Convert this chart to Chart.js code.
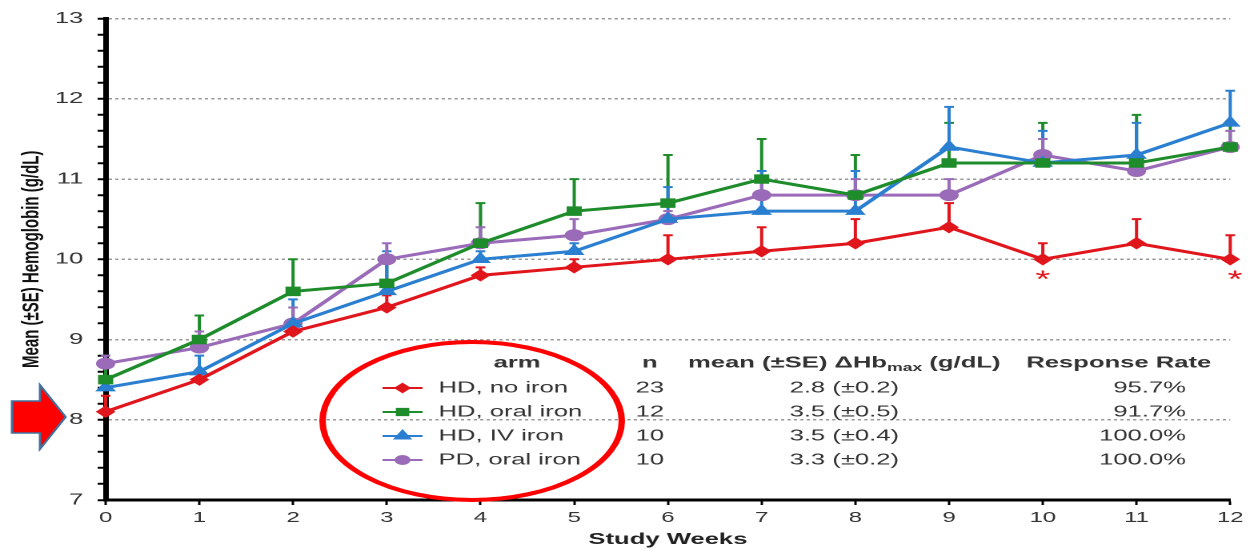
<!DOCTYPE html>
<html>
<head>
<meta charset="utf-8">
<script src="https://cdn.jsdelivr.net/npm/chart.js@4.4.1/dist/chart.umd.min.js"></script>
<style>
  html, body { margin: 0; padding: 0; background: #fff; overflow: hidden; }
  /* the source picture is stretched sideways, so the chart is drawn narrow and widened */
  #wrap { width: 781px; height: 549px; transform-origin: 0 0; transform: scaleX(1.6005); }
</style>
</head>
<body>
<div id="wrap"><canvas id="hbChart"></canvas></div>
<script>
// weeks on the x axis
const weeks = [0, 1, 2, 3, 4, 5, 6, 7, 8, 9, 10, 11, 12];
const yMin = 7, yMax = 13;

// table in the plot
const arms = ["HD, no iron", "HD, oral iron", "HD, IV iron", "PD, oral iron"];
const armN = ["23", "12", "10", "10"];
const deltaHb = ["2.8 (\u00b10.2)", "3.5 (\u00b10.5)", "3.5 (\u00b10.4)", "3.3 (\u00b10.2)"];
const responseRate = ["95.7%", "91.7%", "100.0%", "100.0%"];

// mean Hb per week and the SE (upper bar only)
const hdNoIron   = [8.1, 8.5, 9.1, 9.4, 9.8, 9.9, 10.0, 10.1, 10.2, 10.4, 10.0, 10.2, 10.0];
const hdNoIronSE = [0.2, 0.1, 0.1, 0.15, 0.1, 0.1, 0.3, 0.3, 0.3, 0.3, 0.2, 0.3, 0.3];
const hdOral     = [8.5, 9.0, 9.6, 9.7, 10.2, 10.6, 10.7, 11.0, 10.8, 11.2, 11.2, 11.2, 11.4];
const hdOralSE   = [0.3, 0.3, 0.4, 0.3, 0.5, 0.4, 0.6, 0.5, 0.5, 0.5, 0.5, 0.6, 0.3];
const hdIV       = [8.4, 8.6, 9.2, 9.6, 10.0, 10.1, 10.5, 10.6, 10.6, 11.4, 11.2, 11.3, 11.7];
const hdIVSE     = [0.1, 0.2, 0.3, 0.5, 0.1, 0.1, 0.4, 0.5, 0.5, 0.5, 0.4, 0.4, 0.4];
const pdOral     = [8.7, 8.9, 9.2, 10.0, 10.2, 10.3, 10.5, 10.8, 10.8, 10.8, 11.3, 11.1, 11.4];
const pdOralSE   = [0.1, 0.2, 0.2, 0.2, 0.2, 0.2, 0.1, 0.2, 0.2, 0.2, 0.2, 0.1, 0.2];

// weeks marked with * for HD, no iron
const sigWeeks = [10, 12];

const colors = ["#e0161c", "#1e8c2a", "#2a7fd0", "#9a6bb8"];
const styles = ["rectRot", "rect", "triangle", "circle"];
const radii = [5.5, 6, 6.5, 5.5];

Chart.defaults.font.family = '"Liberation Sans", Arial, sans-serif';

function makeSet(i, values, se) {
    return {
        label: arms[i],
        data: weeks.map((w, k) => ({ x: w, y: values[k] })),
        se: se,
        borderColor: colors[i],
        backgroundColor: colors[i],
        borderWidth: 3,
        pointStyle: styles[i],
        pointRadius: radii[i],
        pointBorderWidth: 1,
        tension: 0,
        clip: false
    };
}

const isInt = v => Math.abs(v - Math.round(v)) < 1e-6;

// upward SE bars
const errorBars = {
    id: "errorBars",
    beforeDatasetsDraw(chart) {
        const { ctx, scales: { x, y } } = chart;
        chart.data.datasets.forEach(ds => {
            ctx.save();
            ctx.strokeStyle = ds.borderColor;
            ctx.lineWidth = 2;
            ds.data.forEach((p, k) => {
                const px = x.getPixelForValue(p.x);
                const y0 = y.getPixelForValue(p.y);
                const y1 = y.getPixelForValue(p.y + ds.se[k]);
                ctx.beginPath();
                ctx.moveTo(px, y0);
                ctx.lineTo(px, y1);
                ctx.moveTo(px - 3, y1);
                ctx.lineTo(px + 3, y1);
                ctx.stroke();
            });
            ctx.restore();
        });
    }
};

// table, red ellipse, arrow, asterisks
const overlay = {
    id: "overlay",
    afterDraw(chart) {
        const { ctx, scales: { x, y } } = chart;
        ctx.save();

        // asterisks
        ctx.fillStyle = colors[0];
        ctx.font = "24px 'Liberation Sans', Arial";
        ctx.textAlign = "center";
        ctx.textBaseline = "middle";
        sigWeeks.forEach(w => {
            const k = weeks.indexOf(w);
            const dx = w === 12 ? 3 : 0;
            ctx.fillText("*", x.getPixelForValue(w) + dx, y.getPixelForValue(hdNoIron[k]) + 21);
        });

        // table header
        const rowY = [363, 388, 412, 436, 460];
        ctx.fillStyle = "#333";
        ctx.font = "bold 16px 'Liberation Sans', Arial";
        ctx.fillText("arm", 323, rowY[0]);
        ctx.fillText("n", 406, rowY[0]);
        ctx.fillText("Response Rate", 699, rowY[0]);

        const partA = "mean (\u00b1SE) \u0394Hb", partB = "max", partC = " (g/dL)";
        const wA = ctx.measureText(partA).width;
        const wC = ctx.measureText(partC).width;
        ctx.font = "bold 11px 'Liberation Sans', Arial";
        const wB = ctx.measureText(partB).width;
        let hx = 527.5 - (wA + wB + wC) / 2;
        ctx.textAlign = "left";
        ctx.font = "bold 16px 'Liberation Sans', Arial";
        ctx.fillText(partA, hx, rowY[0]);
        ctx.font = "bold 11px 'Liberation Sans', Arial";
        ctx.fillText(partB, hx + wA, rowY[0] + 5);
        ctx.font = "bold 16px 'Liberation Sans', Arial";
        ctx.fillText(partC, hx + wA + wB, rowY[0]);

        // table rows
        ctx.font = "16px 'Liberation Sans', Arial";
        arms.forEach((a, i) => {
            const ry = rowY[i + 1];
            ctx.strokeStyle = colors[i];
            ctx.fillStyle = colors[i];
            ctx.lineWidth = 2;
            ctx.beginPath();
            ctx.moveTo(239, ry);
            ctx.lineTo(264, ry);
            ctx.stroke();
            Chart.helpers.drawPoint(ctx, { pointStyle: styles[i], radius: radii[i] - 1.5, rotation: 0, borderWidth: 1 }, 251.5, ry);

            ctx.fillStyle = "#333";
            ctx.textAlign = "left";
            ctx.fillText(a, 274, ry);
            ctx.textAlign = "center";
            ctx.fillText(armN[i], 406, ry);
            ctx.fillText(deltaHb[i], 527.5, ry);
            ctx.textAlign = "right";
            ctx.fillText(responseRate[i], 741, ry);
        });

        // red ellipse round the arms
        ctx.strokeStyle = "#ff0000";
        ctx.lineWidth = 4;
        ctx.beginPath();
        ctx.ellipse(295, 421, 93.5, 79, 0, 0, Math.PI * 2);
        ctx.stroke();

        // red arrow pointing at 8
        ctx.fillStyle = "#ff0000";
        ctx.strokeStyle = "#41719c";
        ctx.lineWidth = 1.5;
        ctx.beginPath();
        ctx.moveTo(7.5, 401);
        ctx.lineTo(25, 401);
        ctx.lineTo(25, 385);
        ctx.lineTo(41, 417);
        ctx.lineTo(25, 449);
        ctx.lineTo(25, 433);
        ctx.lineTo(7.5, 433);
        ctx.closePath();
        ctx.fill();
        ctx.stroke();

        ctx.restore();
    }
};

new Chart(document.getElementById("hbChart"), {
    type: "line",
    data: {
        datasets: [
            makeSet(0, hdNoIron, hdNoIronSE),
            makeSet(1, hdOral, hdOralSE),
            makeSet(2, hdIV, hdIVSE),
            makeSet(3, pdOral, pdOralSE)
        ]
    },
    options: {
        responsive: true,
        maintainAspectRatio: false,
        devicePixelRatio: 2,
        animation: false,
        layout: { padding: { top: 15, right: 11, bottom: 0, left: 0 } },
        plugins: { legend: { display: false }, tooltip: { enabled: false } },
        scales: {
            x: {
                type: "linear",
                min: weeks[0],
                max: weeks[weeks.length - 1],
                afterFit: s => { s.height = 49; },
                ticks: { stepSize: 1, padding: 4, color: "#333", font: { size: 15 } },
                grid: { display: true, drawOnChartArea: false, tickLength: 5, tickWidth: 1.5, tickColor: "#000" },
                border: { color: "#000", width: 3 },
                title: { display: true, text: "Study Weeks", color: "#222", font: { size: 16, weight: "bold" }, padding: 0 }
            },
            y: {
                min: yMin,
                max: yMax,
                afterFit: s => { s.width = 66; },
                ticks: {
                    stepSize: 0.2,
                    autoSkip: false,
                    padding: 9,
                    color: "#333",
                    font: { size: 16 },
                    callback: v => isInt(v) ? String(Math.round(v)) : ""
                },
                grid: {
                    color: c => isInt(c.tick.value) ? "#9a9a9a" : "rgba(0,0,0,0)",
                    lineWidth: 1.5,
                    tickColor: "#000",
                    tickLength: 5,
                    tickWidth: 2
                },
                border: { color: "#000", width: 3.5, dash: [2, 2] },
                title: {
                    display: true,
                    text: "Mean (\u00b1SE) Hemoglobin (g/dL)",
                    color: "#111",
                    font: { size: 15, weight: "bold" },
                    padding: { top: 11, bottom: 0 }
                }
            }
        }
    },
    plugins: [errorBars, overlay]
});
</script>
</body>
</html>
